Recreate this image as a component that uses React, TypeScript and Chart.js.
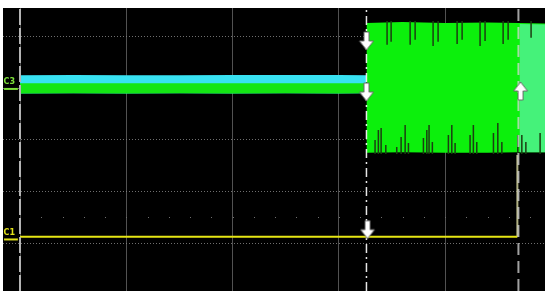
import { useEffect, useRef } from "react";
import { Chart, registerables } from "chart.js";

Chart.register(...registerables);

// Units: graticule divisions. x = 0 at the left graticule line, y = 0 at the centre line.
const xMin = -0.16;
const xMax = 4.94;
const yMin = -2.93;
const yMax = 2.56;
const majorX = [0, 1, 2, 3, 4];
const majorY = [-2, -1, 0, 1, 2];
const minorDotY = -1.5;
const minorDotStep = 0.2;

const triggerX = 3.26;
const cursorX = 4.69;

// C2 (cyan) and C3 (green) before the trigger
const preX = [0, 0.5, 1.0, 1.5, 2.0, 2.5, 3.0, 3.26];
const cyanTop = [1.255, 1.26, 1.255, 1.255, 1.26, 1.26, 1.26, 1.255];
const cyanGreenEdge = [1.1, 1.1, 1.1, 1.1, 1.1, 1.1, 1.1, 1.1];
const greenBottom = [0.9, 0.905, 0.9, 0.905, 0.9, 0.905, 0.9, 0.905];

// C3 after the trigger
const postX = [3.26, 3.6, 4.0, 4.4, 4.69, 4.94];
const postTop = [2.27, 2.29, 2.27, 2.28, 2.27, 2.26];
const postBottom = [-0.25, -0.24, -0.25, -0.25, -0.24, -0.24];
const rightX = [4.7, 4.94];
const rightTop = [2.25, 2.24];
const rightBottom = [-0.24, -0.24];

const topSpikeX = [3.454, 3.492, 3.671, 3.718, 3.887, 3.934, 4.113, 4.16, 4.329, 4.376, 4.546, 4.593, 4.809];
const topSpikeEnd = [1.845, 1.903, 1.845, 1.942, 1.825, 1.903, 1.864, 1.942, 1.825, 1.922, 1.864, 1.942, 1.981];
const bottomSpikeX = [3.341, 3.372, 3.398, 3.442, 3.545, 3.586, 3.624, 3.655, 3.796, 3.828, 3.849, 3.88, 4.031, 4.063, 4.094, 4.235, 4.266, 4.298, 4.455, 4.496, 4.534, 4.684, 4.722, 4.76, 4.894];
const bottomSpikeEnd = [0.0, 0.194, 0.233, -0.097, -0.136, 0.058, 0.291, -0.058, 0.039, 0.194, 0.291, -0.039, 0.097, 0.291, -0.058, 0.097, 0.291, -0.039, 0.136, 0.33, -0.039, 0.097, 0.097, -0.039, 0.136];

// C1 (yellow)
const c1X = [0, 4.68];
const c1Level = -1.88;
const c1StepTop = -0.29;

// Channel labels
const channelLabels = ["C3", "C1"];
const channelLabelY = [1.08, -1.84];
const channelMarkerY = [0.99, -1.93];
const channelColors = ["#7ee03a", "#e2e21a"];

// Cursor arrows
const downArrowX = [3.26, 3.26, 3.27];
const downArrowY = [1.92, 0.93, -1.74];
const upArrowX = [4.71];
const upArrowY = [0.95];

function makeArrow(up: boolean) {
  const c = document.createElement("canvas");
  c.width = 16;
  c.height = 20;
  const g = c.getContext("2d")!;
  g.save();
  if (up) {
    g.translate(0, 20);
    g.scale(1, -1);
  }
  g.beginPath();
  g.moveTo(5.5, 1);
  g.lineTo(10.5, 1);
  g.lineTo(10.5, 10);
  g.lineTo(15, 10);
  g.lineTo(8, 19);
  g.lineTo(1, 10);
  g.lineTo(5.5, 10);
  g.closePath();
  g.fillStyle = "#ffffff";
  g.fill();
  g.strokeStyle = "#6a6a6a";
  g.lineWidth = 1;
  g.stroke();
  g.restore();
  return c;
}

const pts = (xs: number[], ys: number[]) => xs.map((x, i) => ({ x, y: ys[i] }));

export default function App() {
  const ref = useRef<HTMLCanvasElement>(null);
  useEffect(() => {
    if (!ref.current) return;
    const downArrow = makeArrow(false);
    const upArrow = makeArrow(true);

    const spikeData = (xs: number[], start: number, ends: number[]) =>
      xs.flatMap((x, i) => [
        { x, y: start },
        { x, y: ends[i] },
        { x, y: null as any },
      ]);

    const band = (data: any, color: string, fill: any, order: number) => ({
      type: "line" as const,
      data,
      borderColor: "rgba(0,0,0,0)",
      borderWidth: 0,
      backgroundColor: color,
      pointRadius: 0,
      fill,
      tension: 0,
      order,
    });

    const vline = (x: number, color: string, width: number, dash: number[], order: number) => ({
      type: "line" as const,
      data: [
        { x, y: yMin },
        { x, y: yMax },
      ],
      borderColor: color,
      borderWidth: width,
      borderDash: dash,
      pointRadius: 0,
      fill: false,
      order,
    });

    const graticulePlugin = {
      id: "graticuleExtras",
      beforeDatasetsDraw(chart: any) {
        const { ctx, scales } = chart;
        const xs = scales.x;
        const ys = scales.y;
        ctx.save();
        ctx.fillStyle = "#6e6e6e";
        const py = Math.round(ys.getPixelForValue(minorDotY));
        for (let v = minorDotStep; v < xMax; v += minorDotStep) {
          const px = Math.round(xs.getPixelForValue(v));
          ctx.fillRect(px, py, 1, 1);
        }
        ctx.restore();
      },
      afterDraw(chart: any) {
        const { ctx, scales } = chart;
        const xs = scales.x;
        const ys = scales.y;
        ctx.save();
        ctx.font = "bold 8px 'DejaVu Sans', sans-serif";
        ctx.textBaseline = "alphabetic";
        channelLabels.forEach((t, i) => {
          ctx.fillStyle = channelColors[i];
          ctx.fillText(t, xs.getPixelForValue(-0.155), ys.getPixelForValue(channelLabelY[i]));
          ctx.strokeStyle = channelColors[i];
          ctx.lineWidth = 2;
          ctx.beginPath();
          ctx.moveTo(xs.getPixelForValue(-0.15), ys.getPixelForValue(channelMarkerY[i]));
          ctx.lineTo(xs.getPixelForValue(-0.02), ys.getPixelForValue(channelMarkerY[i]));
          ctx.stroke();
        });
        ctx.restore();
      },
    };

    const chart = new Chart(ref.current, {
      type: "line",
      data: {
        datasets: [
          band(pts(postX, postTop), "#0cf00c", "+1", 20),
          band(pts(postX, postBottom), "rgba(0,0,0,0)", false, 20),
          band(pts(rightX, rightTop), "#45f27a", "+1", 19),
          band(pts(rightX, rightBottom), "rgba(0,0,0,0)", false, 19),
          {
            type: "line",
            data: spikeData(topSpikeX, 2.31, topSpikeEnd),
            borderColor: "#1c3e12",
            borderWidth: 1.5,
            pointRadius: 0,
            fill: false,
            spanGaps: false,
            order: 18,
          },
          {
            type: "line",
            data: spikeData(bottomSpikeX, -0.27, bottomSpikeEnd),
            borderColor: "#1c3e12",
            borderWidth: 1.5,
            pointRadius: 0,
            fill: false,
            spanGaps: false,
            order: 18,
          },
          // cyan fills from its top down to the bottom of the green band; green drawn over it
          band(pts(preX, cyanTop), "#38e2f2", "+2", 16),
          band(pts(preX, cyanGreenEdge), "#14e614", "+1", 15),
          band(pts(preX, greenBottom), "rgba(0,0,0,0)", false, 15),
          {
            type: "line",
            data: pts(c1X, [c1Level, c1Level]),
            borderColor: "#e6e614",
            borderWidth: 2,
            pointRadius: 0,
            fill: false,
            order: 10,
          },
          {
            type: "line",
            data: [
              { x: c1X[1], y: c1Level },
              { x: c1X[1], y: c1StepTop },
            ],
            borderColor: "#b0b082",
            borderWidth: 2,
            pointRadius: 0,
            fill: false,
            order: 11,
          },
          vline(0, "#b4b4b4", 2, [16, 3], 5),
          vline(triggerX, "rgba(255,255,255,0.9)", 1.5, [9, 4, 2, 4], 5),
          vline(cursorX, "rgba(215,215,215,0.75)", 2, [12, 6], 5),
          {
            type: "scatter",
            data: pts(downArrowX, downArrowY),
            pointStyle: downArrow,
            pointRadius: 8,
            order: 1,
          },
          {
            type: "scatter",
            data: pts(upArrowX, upArrowY),
            pointStyle: upArrow,
            pointRadius: 8,
            order: 1,
          },
        ] as any,
      },
      options: {
        animation: false,
        responsive: false,
        devicePixelRatio: 1,
        events: [],
        layout: { padding: 0, autoPadding: false },
        plugins: { legend: { display: false }, tooltip: { enabled: false } },
        scales: {
          x: {
            type: "linear",
            min: xMin,
            max: xMax,
            afterBuildTicks: (s: any) => {
              s.ticks = majorX.map((v) => ({ value: v }));
            },
            ticks: { display: false },
            grid: { color: "rgba(110,110,110,0.75)", lineWidth: 1, drawTicks: false },
            border: { display: false },
          },
          y: {
            type: "linear",
            min: yMin,
            max: yMax,
            afterBuildTicks: (s: any) => {
              s.ticks = majorY.map((v) => ({ value: v }));
            },
            ticks: { display: false },
            grid: { color: "rgba(130,130,130,0.85)", lineWidth: 1, drawTicks: false },
            border: { display: false, dash: [1, 2] },
          },
        },
      } as any,
      plugins: [graticulePlugin],
    });
    return () => chart.destroy();
  }, []);

  return (
    <canvas
      ref={ref}
      width={542}
      height={283}
      style={{ position: "absolute", left: 3, top: 8, width: 542, height: 283, background: "#000" }}
    />
  );
}
